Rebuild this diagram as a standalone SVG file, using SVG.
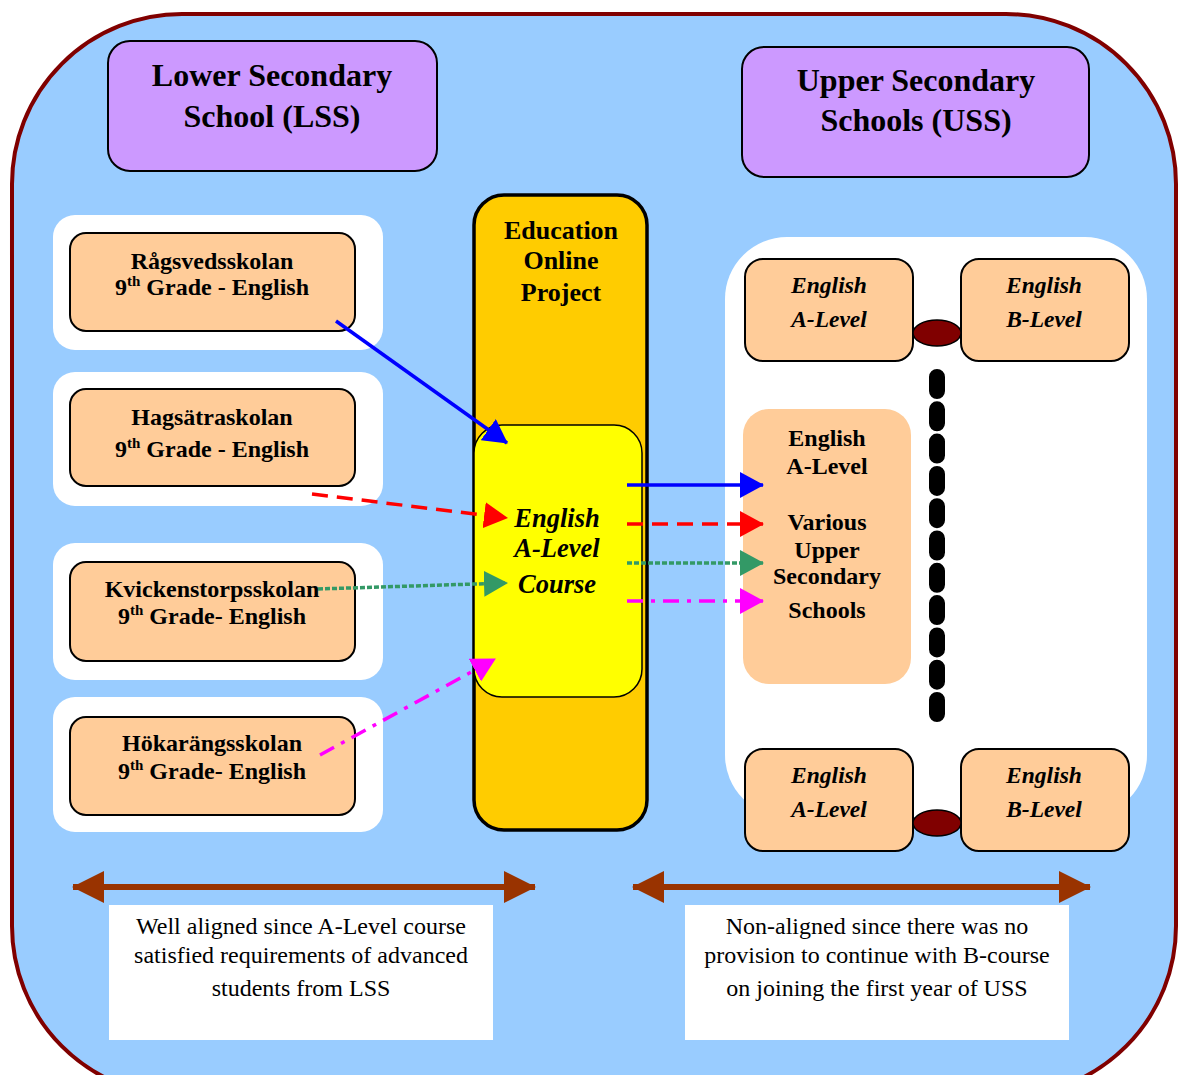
<svg xmlns="http://www.w3.org/2000/svg" width="1179" height="1075" viewBox="0 0 1179 1075">
<defs>
<style>
.t{font-family:"Liberation Serif","Times New Roman",serif;font-weight:bold;fill:#000;text-anchor:middle}
.big{font-size:32px}
.sch{font-size:24px}
.it{font-style:italic}
.note{font-family:"Liberation Serif","Times New Roman",serif;font-size:24px;fill:#000;text-anchor:middle}
.peach{fill:#FFCC99;stroke:#000;stroke-width:2}
.wbox{fill:#FFFFFF}
.purple{fill:#CC99FF;stroke:#000;stroke-width:2}
.conn{fill:none;stroke-width:3.5}
</style>
<marker id="mb" markerUnits="userSpaceOnUse" markerWidth="24" markerHeight="26" refX="23" refY="13" orient="auto" viewBox="0 0 24 26"><path d="M0,0 L24,13 L0,26 z" fill="#0000FF"/></marker>
<marker id="mr" markerUnits="userSpaceOnUse" markerWidth="24" markerHeight="26" refX="23" refY="13" orient="auto" viewBox="0 0 24 26"><path d="M0,0 L24,13 L0,26 z" fill="#FF0000"/></marker>
<marker id="mg" markerUnits="userSpaceOnUse" markerWidth="24" markerHeight="26" refX="23" refY="13" orient="auto" viewBox="0 0 24 26"><path d="M0,0 L24,13 L0,26 z" fill="#339966"/></marker>
<marker id="mm" markerUnits="userSpaceOnUse" markerWidth="24" markerHeight="26" refX="23" refY="13" orient="auto" viewBox="0 0 24 26"><path d="M0,0 L24,13 L0,26 z" fill="#FF00FF"/></marker>
<marker id="mbr" markerUnits="userSpaceOnUse" markerWidth="32" markerHeight="32" refX="31" refY="16" orient="auto-start-reverse" viewBox="0 0 32 32"><path d="M0,0 L32,16 L0,32 z" fill="#993300"/></marker>
</defs>

<g id="background">
<rect x="12" y="14" width="1164" height="1082" rx="170" ry="170" fill="#99CCFF" stroke="#800000" stroke-width="4"/>
</g>

<g id="lss-title">
<rect class="purple" x="108" y="41" width="329" height="130" rx="22"/>
<text class="t big" x="272" y="86">Lower Secondary</text>
<text class="t big" x="272" y="127">School (LSS)</text>
</g>

<g id="uss-title">
<rect class="purple" x="742" y="47" width="347" height="130" rx="22"/>
<text class="t big" x="916" y="91">Upper Secondary</text>
<text class="t big" x="916" y="131">Schools (USS)</text>
</g>

<g id="school1">
<rect class="wbox" x="53" y="215" width="330" height="135" rx="22"/>
<rect class="peach" x="70" y="233" width="285" height="98" rx="16"/>
<text class="t sch" x="212" y="269">Rågsvedsskolan</text>
<text class="t sch" x="212" y="295">9<tspan font-size="15" dy="-9">th</tspan><tspan dy="9"> Grade - English</tspan></text>
</g>

<g id="school2">
<rect class="wbox" x="53" y="372" width="330" height="134" rx="22"/>
<rect class="peach" x="70" y="389" width="285" height="97" rx="16"/>
<text class="t sch" x="212" y="425">Hagsätraskolan</text>
<text class="t sch" x="212" y="457">9<tspan font-size="15" dy="-9">th</tspan><tspan dy="9"> Grade - English</tspan></text>
</g>

<g id="school3">
<rect class="wbox" x="53" y="543" width="330" height="137" rx="22"/>
<rect class="peach" x="70" y="562" width="285" height="99" rx="16"/>
<text class="t sch" x="212" y="597">Kvickenstorpsskolan</text>
<text class="t sch" x="212" y="624">9<tspan font-size="15" dy="-9">th</tspan><tspan dy="9"> Grade- English</tspan></text>
</g>

<g id="school4">
<rect class="wbox" x="53" y="697" width="330" height="135" rx="22"/>
<rect class="peach" x="70" y="717" width="285" height="98" rx="16"/>
<text class="t sch" x="212" y="751">Hökarängsskolan</text>
<text class="t sch" x="212" y="779">9<tspan font-size="15" dy="-9">th</tspan><tspan dy="9"> Grade- English</tspan></text>
</g>

<g id="project">
<rect x="474" y="195" width="173" height="635" rx="30" fill="#FFCC00" stroke="#000" stroke-width="3.5"/>
<text class="t" font-size="26" x="561" y="239">Education</text>
<text class="t" font-size="26" x="561" y="269">Online</text>
<text class="t" font-size="26" x="561" y="301">Project</text>
</g>

<g id="course">
<rect x="474" y="425" width="168" height="272" rx="28" fill="#FFFF00" stroke="#000" stroke-width="1.5"/>
<text class="t it" font-size="26.5" x="557" y="527">English</text>
<text class="t it" font-size="26.5" x="557" y="557">A-Level</text>
<text class="t it" font-size="26.5" x="557" y="593">Course</text>
</g>

<g id="uss-area">
<rect class="wbox" x="725" y="237" width="422" height="580" rx="62"/>
</g>

<g id="various-uss">
<rect x="743" y="409" width="168" height="275" rx="26" fill="#FFCC99"/>
<text class="t sch" x="827" y="446">English</text>
<text class="t sch" x="827" y="474">A-Level</text>
<text class="t sch" x="827" y="530">Various</text>
<text class="t sch" x="827" y="558">Upper</text>
<text class="t sch" x="827" y="584">Secondary</text>
<text class="t sch" x="827" y="618">Schools</text>
</g>

<g id="dots-column">
<path d="M937,377 L937,714" fill="none" stroke="#000" stroke-width="16" stroke-linecap="round" stroke-dasharray="14 18.3"/>
</g>

<g id="top-a">
<rect class="peach" x="745" y="259" width="168" height="102" rx="18"/>
<text class="t it" font-size="23.5" x="829" y="293">English</text>
<text class="t it" font-size="23.5" x="829" y="327">A-Level</text>
</g>
<g id="top-b">
<rect class="peach" x="961" y="259" width="168" height="102" rx="18"/>
<text class="t it" font-size="23.5" x="1044" y="293">English</text>
<text class="t it" font-size="23.5" x="1044" y="327">B-Level</text>
</g>
<g id="top-link">
<ellipse cx="937" cy="333" rx="24" ry="13" fill="#800000" stroke="#000" stroke-width="1.5"/>
</g>

<g id="bottom-a">
<rect class="peach" x="745" y="749" width="168" height="102" rx="18"/>
<text class="t it" font-size="23.5" x="829" y="783">English</text>
<text class="t it" font-size="23.5" x="829" y="817">A-Level</text>
</g>
<g id="bottom-b">
<rect class="peach" x="961" y="749" width="168" height="102" rx="18"/>
<text class="t it" font-size="23.5" x="1044" y="783">English</text>
<text class="t it" font-size="23.5" x="1044" y="817">B-Level</text>
</g>
<g id="bottom-link">
<ellipse cx="937" cy="823" rx="24" ry="13" fill="#800000" stroke="#000" stroke-width="1.5"/>
</g>

<g id="connectors">
<line class="conn" x1="336" y1="321" x2="507" y2="443" stroke="#0000FF" marker-end="url(#mb)"/>
<line class="conn" x1="312" y1="494" x2="507" y2="518" stroke="#FF0000" stroke-dasharray="16 9" marker-end="url(#mr)"/>
<line class="conn" x1="318" y1="589" x2="507" y2="583" stroke="#339966" stroke-dasharray="5 2" marker-end="url(#mg)"/>
<line class="conn" x1="320" y1="755" x2="495" y2="659" stroke="#FF00FF" stroke-dasharray="16 8 4 8" marker-end="url(#mm)"/>
<line class="conn" x1="627" y1="485" x2="763" y2="485" stroke="#0000FF" marker-end="url(#mb)"/>
<line class="conn" x1="627" y1="524" x2="763" y2="524" stroke="#FF0000" stroke-dasharray="16 9" marker-end="url(#mr)"/>
<line class="conn" x1="627" y1="563" x2="763" y2="563" stroke="#339966" stroke-dasharray="5 2" marker-end="url(#mg)"/>
<line class="conn" x1="627" y1="601" x2="763" y2="601" stroke="#FF00FF" stroke-dasharray="16 8 4 8" marker-end="url(#mm)"/>
<line x1="73" y1="887" x2="535" y2="887" stroke="#993300" stroke-width="6" marker-start="url(#mbr)" marker-end="url(#mbr)"/>
<line x1="633" y1="887" x2="1090" y2="887" stroke="#993300" stroke-width="6" marker-start="url(#mbr)" marker-end="url(#mbr)"/>
</g>

<g id="note-left">
<rect x="109" y="905" width="384" height="135" fill="#FFFFFF"/>
<text class="note" x="301" y="934">Well aligned since A-Level course</text>
<text class="note" x="301" y="963">satisfied requirements of advanced</text>
<text class="note" x="301" y="996">students from LSS</text>
</g>

<g id="note-right">
<rect x="685" y="905" width="384" height="135" fill="#FFFFFF"/>
<text class="note" x="877" y="934">Non-aligned since there was no</text>
<text class="note" x="877" y="963">provision to continue with B-course</text>
<text class="note" x="877" y="996">on joining the first year of USS</text>
</g>
</svg>
